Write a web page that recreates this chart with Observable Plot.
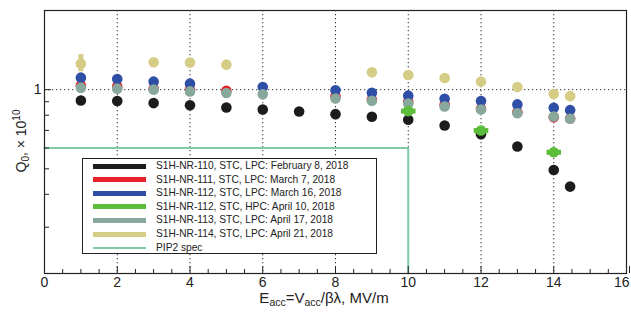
<!DOCTYPE html>
<html>
<head>
<meta charset="utf-8">
<script src="https://cdn.jsdelivr.net/npm/d3@7"></script>
<script src="https://cdn.jsdelivr.net/npm/@observablehq/plot@0.6"></script>
<style>
  html, body { margin: 0; padding: 0; background: #fff; }
  #wrap { position: relative; width: 631px; height: 313px; font-family: "Liberation Sans", Arial, sans-serif; }
  #legend { position: absolute; left: 82px; top: 158px; width: 295px; height: 96px; background: #fff; border: 1px solid #222; box-sizing: border-box; }
  .row { position: absolute; left: 0; height: 13px; width: 100%; }
  .sw { position: absolute; left: 10px; width: 53px; top: 4px; }
  .lt { position: absolute; left: 73px; top: 0; font-size: 10.2px; line-height: 13px; color: #222; white-space: nowrap; }
</style>
</head>
<body>
<div id="wrap"></div>
<script>
// ---- data ----
const seriesNames = [
  "S1H-NR-110, STC, LPC: February 8, 2018",
  "S1H-NR-111, STC, LPC: March 7, 2018",
  "S1H-NR-112, STC, LPC: March 16, 2018",
  "S1H-NR-112, STC, HPC: April 10, 2018",
  "S1H-NR-113, STC, LPC: April 17, 2018",
  "S1H-NR-114, STC, LPC: April 21, 2018",
  "PIP2 spec"
];
const seriesColors = ["#1c1c1c", "#e8222b", "#2f4ea6", "#5cbd3a", "#87a89b", "#d5cd86", "#7fcba6"];

const x110 = [1, 2, 3, 4, 5, 6, 7, 8, 9, 10, 11, 12, 13, 14, 14.45];
const y110 = [0.910, 0.905, 0.889, 0.873, 0.856, 0.841, 0.826, 0.807, 0.789, 0.768, 0.731, 0.677, 0.608, 0.495, 0.428];

const x111 = [1, 2, 3, 4, 5, 8, 9, 10, 11, 12, 13, 14, 14.45];
const y111 = [1.038, 1.029, 1.009, 1.0, 0.991, 0.945, 0.918, 0.900, 0.877, 0.846, 0.821, 0.786, 0.777];

const x112 = [1, 2, 3, 4, 6, 8, 9, 10, 11, 12, 13, 14, 14.45];
const y112 = [1.111, 1.098, 1.073, 1.054, 1.023, 0.994, 0.974, 0.949, 0.924, 0.905, 0.879, 0.854, 0.836];

const x112h = [10, 12, 14];
const y112h = [0.829, 0.699, 0.578];
const xErr112h = [0.2, 0.2, 0.2];

const x113 = [1, 2, 3, 4, 5, 6, 8, 9, 10, 11, 12, 13, 14, 14.45];
const y113 = [1.018, 1.009, 1.0, 0.985, 0.971, 0.960, 0.926, 0.908, 0.886, 0.863, 0.841, 0.814, 0.791, 0.775];

const x114 = [1, 3, 4, 5, 9, 10, 11, 12, 13, 14, 14.45];
const y114 = [1.256, 1.271, 1.268, 1.245, 1.164, 1.137, 1.107, 1.073, 1.023, 0.962, 0.945];

// vertical error bars at the first point
const errX = [1, 1];
const errLo = [1.17, 0.97];
const errHi = [1.36, 1.06];
const errColor = ["#d5cd86", "#87a89b"];

const pipX = [0, 10, 10];
const pipY = [0.6, 0.6, 0.2];

const majorTicksX = [0, 2, 4, 6, 8, 10, 12, 14];
const lastTickX = [16];
const minorTicksX = d3.range(0.5, 16, 0.5).filter(v => v % 2 !== 0);
const gridX = [2, 4, 6, 8, 10, 12, 14];
const gridY = [1];
const labelTicksY = [1];
const minorTicksY = [0.9, 0.8, 0.7, 0.6, 0.5, 0.4, 0.3];

// ---- build ----
const pts = (xs, ys) => xs.map((x, i) => ({x, y: ys[i]}));
const d110 = pts(x110, y110), d111 = pts(x111, y111), d112 = pts(x112, y112);
const d112h = x112h.map((x, i) => ({x, y: y112h[i], e: xErr112h[i]}));
const d113 = pts(x113, y113), d114 = pts(x114, y114);
const dErr = errX.map((x, i) => ({x, lo: errLo[i], hi: errHi[i], c: errColor[i]}));
const dPip = pts(pipX, pipY);
const R = 5.3;

const chart = Plot.plot({
  width: 631,
  height: 313,
  marginLeft: 44,
  marginRight: 5,
  marginTop: 10,
  marginBottom: 40,
  x: {domain: [0, 16]},
  y: {type: "log", domain: [0.2, 2]},
  style: {fontFamily: "'Liberation Sans', Arial, sans-serif", fontSize: "14px", color: "#222", background: "#fff", overflow: "visible"},
  marks: [
    Plot.ruleX(gridX, {stroke: "#333", strokeDasharray: "1.3,2.7", strokeWidth: 1}),
    Plot.ruleY(gridY, {stroke: "#333", strokeDasharray: "1.3,2.7", strokeWidth: 1}),
    Plot.line(dPip, {x: "x", y: "y", stroke: seriesColors[6], strokeWidth: 2}),
    Plot.ruleX(dErr, {x: "x", y1: "lo", y2: "hi", stroke: "c", strokeWidth: 5}),
    Plot.dot(d110, {x: "x", y: "y", r: R, fill: seriesColors[0]}),
    Plot.dot(d111, {x: "x", y: "y", r: R, fill: seriesColors[1]}),
    Plot.dot(d112, {x: "x", y: "y", r: R, fill: seriesColors[2]}),
    Plot.dot(d113, {x: "x", y: "y", r: R, fill: seriesColors[4]}),
    Plot.dot(d114, {x: "x", y: "y", r: R, fill: seriesColors[5]}),
    Plot.link(d112h, {x1: d => d.x - d.e, x2: d => d.x + d.e, y1: "y", y2: "y", stroke: seriesColors[3], strokeWidth: 5}),
    Plot.dot(d112h, {x: "x", y: "y", r: R, fill: seriesColors[3]}),
    Plot.frame({stroke: "#222", strokeWidth: 1.2}),
    Plot.axisX(majorTicksX, {tickSize: -7, tickPadding: 11, label: null, stroke: "#222", fill: "#222"}),
    Plot.axisX(lastTickX, {tickSize: -7, tickPadding: 11, label: null, textAnchor: "end", dx: 3, stroke: "#222", fill: "#222"}),
    Plot.axisX(minorTicksX, {tickSize: -4, text: null, label: null, stroke: "#222"}),
    Plot.axisY(labelTicksY, {tickSize: -7, tickPadding: 10, label: null, tickFormat: d => String(d), stroke: "#222", fill: "#222"}),
    Plot.axisY(minorTicksY, {tickSize: -5, text: null, label: null, stroke: "#222"})
  ]
});

const wrap = document.getElementById("wrap");
wrap.appendChild(chart);

// axis titles with sub/superscripts
const svg = d3.select(chart);
const yl = svg.append("text")
  .attr("transform", "translate(26,141) rotate(-90)")
  .attr("text-anchor", "middle")
  .attr("font-size", 14).attr("fill", "#222");
yl.append("tspan").text("Q");
yl.append("tspan").attr("font-size", 10).attr("dy", 3).text("0");
yl.append("tspan").attr("dy", -3).text(", \u00d7 10");
yl.append("tspan").attr("font-size", 10).attr("dy", -6).text("10");

const xl = svg.append("text")
  .attr("x", 324).attr("y", 303)
  .attr("text-anchor", "middle")
  .attr("font-size", 15).attr("fill", "#222");
xl.append("tspan").text("E");
xl.append("tspan").attr("font-size", 10.5).attr("dy", 3).text("acc");
xl.append("tspan").attr("dy", -3).text("=V");
xl.append("tspan").attr("font-size", 10.5).attr("dy", 3).text("acc");
xl.append("tspan").attr("dy", -3).text("/\u03b2\u03bb, MV/m");

// legend
const lg = document.createElement("div");
lg.id = "legend";
seriesNames.forEach((name, i) => {
  const row = document.createElement("div");
  row.className = "row";
  row.style.top = (0 + i * 13.6) + "px";
  const sw = document.createElement("div");
  sw.className = "sw";
  const h = i === 6 ? 2 : 5;
  sw.style.height = h + "px";
  sw.style.top = (7 - h / 2) + "px";
  sw.style.background = seriesColors[i];
  const t = document.createElement("div");
  t.className = "lt";
  t.textContent = name;
  row.appendChild(sw);
  row.appendChild(t);
  lg.appendChild(row);
});
wrap.appendChild(lg);
</script>
</body>
</html>
